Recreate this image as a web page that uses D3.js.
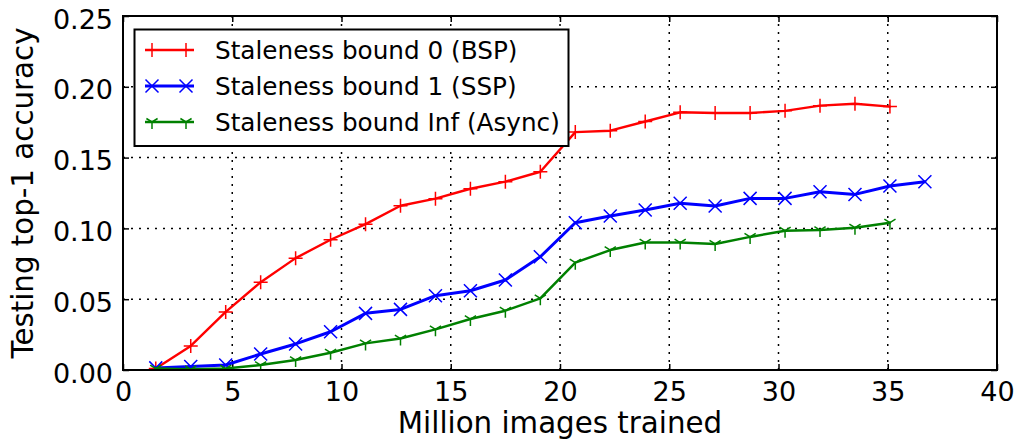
<!DOCTYPE html>
<html>
<head>
<meta charset="utf-8">
<script src="https://cdn.jsdelivr.net/npm/d3@7"></script>
<style>
  html, body { margin: 0; padding: 0; background: #fff; }
  svg { display: block; font-family: "DejaVu Sans", sans-serif; }
</style>
</head>
<body>
<svg id="chart" width="1020" height="446"></svg>
<script>
// Training progress: millions of images seen
const imagesBSP   = [1.5, 3.1, 4.7, 6.3, 7.9, 9.5, 11.1, 12.7, 14.3, 15.9, 17.5, 19.1, 20.7, 22.3, 23.9, 25.5, 27.1, 28.7, 30.3, 31.9, 33.5, 35.1];
const imagesSSP   = [1.5, 3.1, 4.7, 6.3, 7.9, 9.5, 11.1, 12.7, 14.3, 15.9, 17.5, 19.1, 20.7, 22.3, 23.9, 25.5, 27.1, 28.7, 30.3, 31.9, 33.5, 35.1, 36.7];
const imagesAsync = [1.5, 3.1, 4.7, 6.3, 7.9, 9.5, 11.1, 12.7, 14.3, 15.9, 17.5, 19.1, 20.7, 22.3, 23.9, 25.5, 27.1, 28.7, 30.3, 31.9, 33.5, 35.1];

// Testing top-1 accuracy per staleness bound
const accBSP   = [0.001, 0.017, 0.041, 0.062, 0.079, 0.092, 0.103, 0.116, 0.121, 0.128, 0.133, 0.140, 0.168, 0.169, 0.1755, 0.182, 0.1815, 0.1815, 0.183, 0.1867, 0.188, 0.186];
const accSSP   = [0.0015, 0.0025, 0.0035, 0.0113, 0.0184, 0.027, 0.040, 0.0428, 0.0525, 0.056, 0.0636, 0.080, 0.104, 0.1088, 0.113, 0.1177, 0.1158, 0.1212, 0.1212, 0.1259, 0.124, 0.130, 0.133];
const accAsync = [0.001, 0.0005, 0.001, 0.0035, 0.007, 0.0122, 0.0188, 0.0222, 0.0287, 0.036, 0.0419, 0.0506, 0.0758, 0.0847, 0.090, 0.090, 0.089, 0.094, 0.0984, 0.0988, 0.1005, 0.104];

const seriesNames = ["Staleness bound 0 (BSP)", "Staleness bound 1 (SSP)", "Staleness bound Inf (Async)"];
const seriesColors = ["#ff0000", "#0000ff", "#008000"];
const seriesMarkers = ["plus", "cross", "tridown"];

const xTicks = [0, 5, 10, 15, 20, 25, 30, 35, 40];
const yTicks = [0.00, 0.05, 0.10, 0.15, 0.20, 0.25];

const xLabel = "Million images trained";
const yLabel = "Testing top-1 accuracy";

const series = [
  { name: seriesNames[0], color: seriesColors[0], marker: seriesMarkers[0], xs: imagesBSP,   ys: accBSP,   width: 2.4 },
  { name: seriesNames[1], color: seriesColors[1], marker: seriesMarkers[1], xs: imagesSSP,   ys: accSSP,   width: 3.0 },
  { name: seriesNames[2], color: seriesColors[2], marker: seriesMarkers[2], xs: imagesAsync, ys: accAsync, width: 2.5 }
];

const svg = d3.select("#chart");
const plot = { left: 123, right: 997, top: 16, bottom: 370 };

const x = d3.scaleLinear().domain([0, 40]).range([plot.left, plot.right]);
const y = d3.scaleLinear().domain([0, 0.25]).range([plot.bottom, plot.top]);

// Dotted grid
const grid = svg.append("g");
grid.selectAll("line.gx").data(xTicks.slice(1, -1)).join("line")
  .attr("x1", d => x(d)).attr("x2", d => x(d))
  .attr("y1", plot.top).attr("y2", plot.bottom)
  .attr("stroke", "#000").attr("stroke-width", 1.5).attr("stroke-dasharray", "2,6");
grid.selectAll("line.gy").data(yTicks.slice(1, -1)).join("line")
  .attr("y1", d => y(d)).attr("y2", d => y(d))
  .attr("x1", plot.left).attr("x2", plot.right)
  .attr("stroke", "#000").attr("stroke-width", 1.5).attr("stroke-dasharray", "2,6");

// Axes with inward ticks on all four sides
const tickLen = 6;
function styleAxis(g) {
  g.select(".domain").remove();
  g.selectAll(".tick line").attr("stroke", "#000").attr("stroke-width", 1.5);
  g.selectAll(".tick text").attr("fill", "#000").attr("font-family", "DejaVu Sans").attr("font-size", 27);
}
svg.append("g").attr("transform", `translate(0,${plot.bottom})`)
  .call(d3.axisBottom(x).tickValues(xTicks).tickFormat(d3.format("d")).tickSizeInner(-tickLen).tickSizeOuter(0).tickPadding(12))
  .call(styleAxis)
  .call(g => g.selectAll(".tick text").attr("dy", null).attr("y", 31));
svg.append("g").attr("transform", `translate(0,${plot.top})`)
  .call(d3.axisTop(x).tickValues(xTicks).tickFormat("").tickSizeInner(-tickLen).tickSizeOuter(0))
  .call(styleAxis);
svg.append("g").attr("transform", `translate(${plot.left},0)`)
  .call(d3.axisLeft(y).tickValues(yTicks).tickFormat(d3.format(".2f")).tickSizeInner(-tickLen).tickSizeOuter(0).tickPadding(10))
  .call(styleAxis)
  .call(g => g.selectAll(".tick text").attr("dy", "0.45em").attr("x", -10));
svg.append("g").attr("transform", `translate(${plot.right},0)`)
  .call(d3.axisRight(y).tickValues(yTicks).tickFormat("").tickSizeInner(-tickLen).tickSizeOuter(0))
  .call(styleAxis);

// Marker shapes
function markerPath(kind, r) {
  if (kind === "plus") return `M${-r},0H${r}M0,${-r}V${r}`;
  if (kind === "cross") return `M${-r},${-r}L${r},${r}M${-r},${r}L${r},${-r}`;
  // tri-down: stem downward, arms up-left and up-right
  return `M0,0V${r}M0,0L${0.8 * r},${-0.5 * r}M0,0L${-0.8 * r},${-0.5 * r}`;
}
const markerR = { plus: 7, cross: 6.5, tridown: 7 };

// Data lines and markers
const line = d3.line().x(d => x(d[0])).y(d => y(d[1]));
const clipId = "plotclip";
svg.append("clipPath").attr("id", clipId).append("rect")
  .attr("x", plot.left).attr("y", plot.top)
  .attr("width", plot.right - plot.left).attr("height", plot.bottom - plot.top);

series.forEach(s => {
  const pts = s.xs.map((v, i) => [v, s.ys[i]]);
  const g = svg.append("g").attr("clip-path", `url(#${clipId})`);
  g.append("path").datum(pts).attr("d", line)
    .attr("fill", "none").attr("stroke", s.color).attr("stroke-width", s.width)
    .attr("stroke-linejoin", "round").attr("stroke-linecap", "round");
  g.selectAll("path.m").data(pts).join("path").attr("class", "m")
    .attr("transform", d => `translate(${x(d[0])},${y(d[1])})`)
    .attr("d", markerPath(s.marker, markerR[s.marker]))
    .attr("fill", "none").attr("stroke", s.color).attr("stroke-width", 1.5);
});

// Frame
svg.append("rect")
  .attr("x", plot.left).attr("y", plot.top)
  .attr("width", plot.right - plot.left).attr("height", plot.bottom - plot.top)
  .attr("fill", "none").attr("stroke", "#000").attr("stroke-width", 2);

// Axis titles
svg.append("text")
  .attr("x", (plot.left + plot.right) / 2).attr("y", 433)
  .attr("text-anchor", "middle").attr("font-size", 29.3).attr("fill", "#000")
  .text(xLabel);
svg.append("text")
  .attr("transform", `translate(33,${(plot.top + plot.bottom) / 2}) rotate(-90)`)
  .attr("text-anchor", "middle").attr("font-size", 29.3).attr("fill", "#000")
  .text(yLabel);

// Legend
const legend = svg.append("g");
legend.append("rect")
  .attr("x", 134.5).attr("y", 29.5).attr("width", 434).attr("height", 116.5)
  .attr("fill", "#fff").attr("stroke", "#000").attr("stroke-width", 2);
series.forEach((s, i) => {
  const cy = 50 + i * 36;
  const row = legend.append("g");
  row.append("line").attr("x1", 145).attr("x2", 194).attr("y1", cy).attr("y2", cy)
    .attr("stroke", s.color).attr("stroke-width", s.width);
  [152, 186].forEach(mx => {
    row.append("path").attr("transform", `translate(${mx},${cy})`)
      .attr("d", markerPath(s.marker, markerR[s.marker]))
      .attr("fill", "none").attr("stroke", s.color).attr("stroke-width", 1.5);
  });
  row.append("text").attr("x", 215).attr("y", cy + 8.5)
    .attr("font-size", 24.7).attr("fill", "#000").text(s.name);
});
</script>
</body>
</html>
